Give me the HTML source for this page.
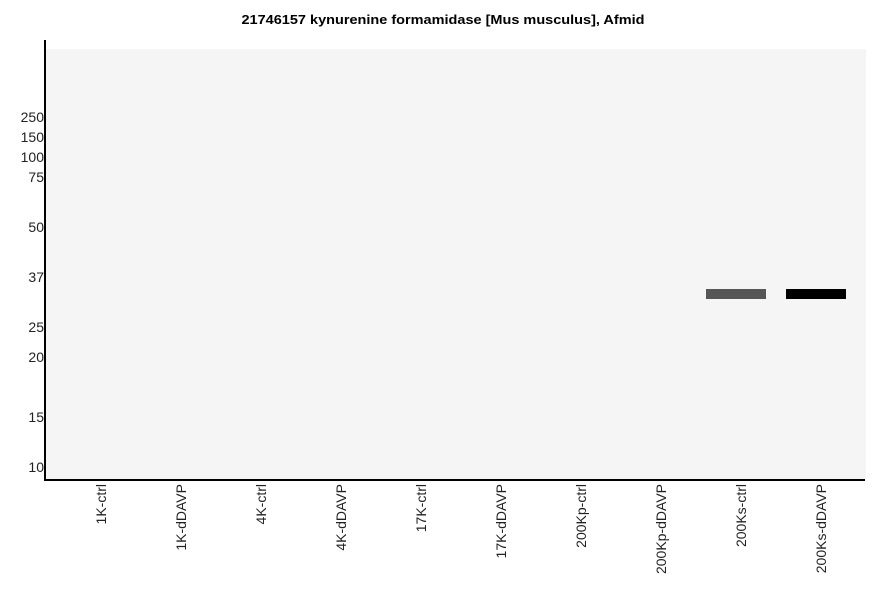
<!DOCTYPE html>
<html><head><style>
body{margin:0;background:#fff;width:886px;height:595px;overflow:hidden;font-family:"Liberation Sans",sans-serif}
</style></head><body>
<svg width="886" height="595" xmlns="http://www.w3.org/2000/svg" font-family="Liberation Sans, sans-serif">
<text x="443" y="24" text-anchor="middle" font-size="13" font-weight="bold" textLength="403" lengthAdjust="spacingAndGlyphs">21746157 kynurenine formamidase [Mus musculus], Afmid</text>
<rect x="46" y="49" width="820" height="430" fill="#f4f5f4"/>
<rect x="706" y="289" width="60" height="10" fill="#555655"/>
<rect x="786" y="289" width="60" height="10" fill="#000"/>
<line x1="45" y1="40" x2="45" y2="481" stroke="#000" stroke-width="2"/>
<line x1="44" y1="480" x2="865" y2="480" stroke="#000" stroke-width="2"/>
<g font-size="14" text-anchor="end" fill="#222">
<text x="44" y="122">250</text><text x="44" y="142">150</text><text x="44" y="162">100</text><text x="44" y="182">75</text>
<text x="44" y="232">50</text><text x="44" y="282">37</text><text x="44" y="332">25</text><text x="44" y="362">20</text>
<text x="44" y="422">15</text><text x="44" y="472">10</text>
</g>
<g font-size="14" text-anchor="end" fill="#222">
<text transform="translate(106,484) rotate(-90)">1K-ctrl</text>
<text transform="translate(186,484) rotate(-90)">1K-dDAVP</text>
<text transform="translate(266,484) rotate(-90)">4K-ctrl</text>
<text transform="translate(346,484) rotate(-90)">4K-dDAVP</text>
<text transform="translate(426,484) rotate(-90)">17K-ctrl</text>
<text transform="translate(506,484) rotate(-90)">17K-dDAVP</text>
<text transform="translate(586,484) rotate(-90)">200Kp-ctrl</text>
<text transform="translate(666,484) rotate(-90)">200Kp-dDAVP</text>
<text transform="translate(746,484) rotate(-90)">200Ks-ctrl</text>
<text transform="translate(826,484) rotate(-90)">200Ks-dDAVP</text>
</g>
</svg>
</body></html>
